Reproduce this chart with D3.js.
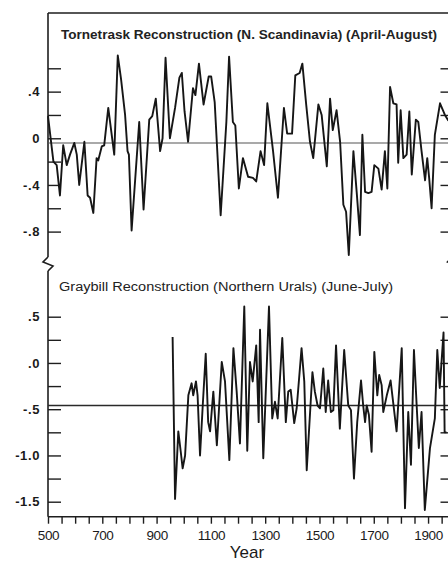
<!DOCTYPE html>
<html>
<head>
<meta charset="utf-8">
<script src="https://cdn.jsdelivr.net/npm/d3@7"></script>
<style>
body { margin: 0; background: #fff; }
svg { display: block; font-family: "Liberation Sans", Arial, sans-serif; }
</style>
</head>
<body>
<script>

// Tornetrask reconstruction, N. Scandinavia (April-August)
const tornYears = [500, 520, 532, 544, 556, 569, 581, 597, 606, 615, 634, 646, 655, 667, 679, 685, 698, 707, 722, 744,
	757, 769, 784, 793, 798, 808, 836, 852, 873, 884, 897, 913, 922, 933, 949, 968, 984, 993, 1003, 1016,
	1034, 1043, 1056, 1073, 1092, 1101, 1114, 1136, 1157, 1167, 1181, 1190, 1203, 1218, 1237, 1255, 1267, 1283, 1296, 1308,
	1329, 1347, 1369, 1381, 1399, 1411, 1427, 1437, 1451, 1465, 1477, 1496, 1508, 1527, 1539, 1549, 1563, 1576, 1588, 1598,
	1608, 1625, 1637, 1649, 1658, 1668, 1680, 1692, 1702, 1717, 1729, 1741, 1750, 1760, 1772, 1784, 1790, 1799, 1809, 1821,
	1831, 1840, 1855, 1864, 1876, 1889, 1897, 1904, 1913, 1925, 1944, 1962, 1975]
const tornValues = [0.19, -0.20, -0.23, -0.49, -0.06, -0.23, -0.14, -0.04, -0.14, -0.40, -0.03, -0.49, -0.51, -0.64, -0.17, -0.19, -0.07, -0.06, 0.26, -0.14,
	0.71, 0.51, 0.20, -0.11, -0.14, -0.79, 0.14, -0.61, 0.16, 0.19, 0.34, -0.11, 0.00, 0.69, 0.00, 0.26, 0.52, 0.56, 0.23, -0.03,
	0.43, 0.37, 0.64, 0.29, 0.53, 0.53, 0.31, -0.66, 0.14, 0.70, 0.14, 0.11, -0.43, -0.17, -0.33, -0.34, -0.37, -0.11, -0.23, 0.30,
	-0.11, -0.51, 0.26, 0.04, 0.04, 0.54, 0.56, 0.64, 0.29, -0.03, -0.17, 0.29, 0.20, -0.24, 0.34, 0.07, 0.24, -0.03, -0.57, -0.63,
	-1.00, -0.11, -0.46, -0.83, 0.03, -0.46, -0.47, -0.46, -0.23, -0.26, -0.44, -0.11, -0.43, 0.44, 0.30, 0.29, -0.21, 0.24, -0.17, -0.14,
	0.23, -0.31, 0.16, 0.14, -0.11, -0.36, -0.17, -0.34, -0.60, 0.03, 0.30, 0.20, 0.15]

// Graybill reconstruction, Northern Urals (June-July)
const grayYears = [959, 968, 980, 989, 996, 1005, 1017, 1029, 1035, 1045, 1051, 1060, 1070, 1081, 1090, 1097, 1109, 1122, 1140, 1152,
	1168, 1183, 1195, 1207, 1223, 1234, 1244, 1254, 1267, 1276, 1281, 1293, 1314, 1326, 1336, 1346, 1363, 1376, 1385, 1394,
	1407, 1416, 1434, 1444, 1453, 1474, 1483, 1493, 1502, 1514, 1523, 1532, 1542, 1551, 1561, 1575, 1591, 1606, 1616, 1627,
	1639, 1653, 1661, 1668, 1674, 1682, 1692, 1702, 1713, 1720, 1729, 1735, 1748, 1762, 1784, 1803, 1815, 1827, 1837, 1848,
	1858, 1866, 1876, 1888, 1907, 1925, 1934, 1943, 1957, 1961, 1968]
const grayValues = [0.28, -1.47, -0.74, -0.96, -1.14, -1.00, -0.35, -0.22, -0.35, -0.20, -0.35, -1.00, -0.46, 0.10, -0.64, -0.74, -0.31, -0.89, 0.01, -0.20,
	-1.05, 0.16, -0.31, -0.87, 0.61, -0.95, 0.01, -0.20, 0.19, -0.64, 0.36, -1.03, 0.61, -0.60, -0.42, -0.60, 0.27, -0.64, -0.31, -0.29,
	-0.65, -0.49, 0.16, -0.20, -1.16, -0.10, -0.31, -0.46, -0.49, -0.06, -0.53, -0.19, -0.53, -0.51, 0.19, -0.71, 0.14, -0.46, -0.51, -1.25,
	-0.64, -0.19, -0.46, -0.64, -0.46, -0.56, -0.96, 0.12, -0.35, -0.13, -0.24, -0.53, -0.35, -0.19, -0.74, 0.16, -1.57, -0.53, -1.10, 0.14,
	-0.46, -0.92, -0.53, -1.59, -0.92, -0.60, 0.14, -0.27, 0.33, -0.75, -0.75]

// reference (mean) lines
const tornMean = -0.04
const grayMean = -0.46

// ticks and their labels
const tornTicks = [0.6, 0.4, 0.2, 0, -0.2, -0.4, -0.6, -0.8]
const tornLabels = {'0.4': '.4', '0': '0', '-0.4': '-.4', '-0.8': '-.8'}
const grayTicks = [0.5, 0.25, 0, -0.25, -0.5, -0.75, -1, -1.25, -1.5]
const grayLabels = {'0.5': '.5', '0': '.0', '-0.5': '-.5', '-1': '-1.0', '-1.5': '-1.5'}
const yearTicks = d3.range(500, 1990, 50)
const yearLabels = [500, 700, 900, 1100, 1300, 1500, 1700, 1900]

const titleTop = 'Tornetrask Reconstruction (N. Scandinavia) (April-August)'
const titleBottom = 'Graybill Reconstruction (Northern Urals) (June-July)'

const W = 448, H = 563
const left = 48, right = 452.5
const frameTop = 13, breakTop = 257, breakBottom = 271, frameBottom = 516.7

const svg = d3.select('body').append('svg')
	.attr('width', W)
	.attr('height', H)

const x = d3.scaleLinear().domain([500, 1990]).range([left, right])
const yTop = d3.scaleLinear().domain([-0.8, 0.6]).range([231.6, 68.3])
const yBot = d3.scaleLinear().domain([-1.5, 0.5]).range([501.7, 316.7])

//Frame: top border, left and right sides with a break, bottom axis line
const frame = svg.append('g').attr('fill', 'none').attr('stroke', '#1e1e1e').attr('stroke-width', 1.6)
frame.append('line').attr('x1', left).attr('x2', right).attr('y1', frameTop).attr('y2', frameTop)
frame.append('line').attr('x1', left).attr('x2', right).attr('y1', frameBottom).attr('y2', frameBottom)
;[left, right].forEach(px => {
	frame.append('line').attr('x1', px).attr('x2', px).attr('y1', frameTop).attr('y2', breakTop)
	frame.append('path').attr('d', `M${px},${breakTop}L${px-5},${breakTop+5}L${px+5},${breakTop+9}L${px},${breakBottom}`)
	frame.append('line').attr('x1', px).attr('x2', px).attr('y1', breakBottom).attr('y2', frameBottom)
})

//Axes
function styleAxis(g) {
	g.select('.domain').remove()
	g.selectAll('.tick line').attr('stroke', '#1e1e1e').attr('stroke-width', 1.4)
	g.selectAll('.tick text').attr('fill', '#1a1a1a').attr('font-family', '"Liberation Sans", Arial, sans-serif')
}

svg.append('g').attr('transform', `translate(${left},0)`)
	.call(d3.axisLeft(yTop).tickValues(tornTicks).tickSize(-13).tickPadding(8)
		.tickFormat(d => tornLabels[String(+d.toFixed(2))] || ''))
	.call(styleAxis)
	.selectAll('text').attr('font-size', 13).attr('font-weight', 'bold').attr('letter-spacing', 0.6)

svg.append('g').attr('transform', `translate(${right},0)`)
	.call(d3.axisRight(yTop).tickValues(tornTicks).tickSize(-12).tickFormat(''))
	.call(styleAxis)

svg.append('g').attr('transform', `translate(${left},0)`)
	.call(d3.axisLeft(yBot).tickValues(grayTicks).tickSize(-13).tickPadding(8)
		.tickFormat(d => grayLabels[String(+d.toFixed(2))] || ''))
	.call(styleAxis)
	.selectAll('text').attr('font-size', 13).attr('font-weight', 'bold').attr('letter-spacing', 0.6)

svg.append('g').attr('transform', `translate(${right},0)`)
	.call(d3.axisRight(yBot).tickValues(grayTicks).tickSize(-12).tickFormat(''))
	.call(styleAxis)

svg.append('g').attr('transform', `translate(0,${frameBottom})`)
	.call(d3.axisBottom(x).tickValues(yearTicks).tickSize(7).tickPadding(7)
		.tickFormat(d => yearLabels.includes(d) ? d : ''))
	.call(styleAxis)
	.selectAll('text').attr('font-size', 13.5).attr('letter-spacing', -0.4)

//Mean lines
svg.append('line')
	.attr('x1', left).attr('x2', right)
	.attr('y1', yTop(tornMean)).attr('y2', yTop(tornMean))
	.attr('stroke', '#555').attr('stroke-width', 1.1)
svg.append('line')
	.attr('x1', left).attr('x2', right)
	.attr('y1', yBot(grayMean)).attr('y2', yBot(grayMean))
	.attr('stroke', '#2a2a2a').attr('stroke-width', 1.3)

//Series
const tornLine = d3.line().x(d => x(d[0])).y(d => yTop(d[1]))
const grayLine = d3.line().x(d => x(d[0])).y(d => yBot(d[1]))

svg.append('path')
	.datum(d3.zip(tornYears, tornValues))
	.attr('fill', 'none').attr('stroke', '#161616').attr('stroke-width', 1.9).attr('stroke-linejoin', 'round')
	.attr('d', tornLine)

svg.append('path')
	.datum(d3.zip(grayYears, grayValues))
	.attr('fill', 'none').attr('stroke', '#161616').attr('stroke-width', 1.9).attr('stroke-linejoin', 'round')
	.attr('d', grayLine)

//Titles
svg.append('text').text(titleTop)
	.attr('x', 61).attr('y', 39)
	.attr('font-size', 12).attr('font-weight', 'bold').attr('fill', '#222')
	.attr('textLength', 376).attr('lengthAdjust', 'spacingAndGlyphs')

svg.append('text').text(titleBottom)
	.attr('x', 59).attr('y', 291)
	.attr('font-size', 12).attr('fill', '#222')
	.attr('textLength', 334).attr('lengthAdjust', 'spacingAndGlyphs')

svg.append('text').text('Year')
	.attr('x', 247).attr('y', 558)
	.attr('text-anchor', 'middle')
	.attr('font-size', 17).attr('fill', '#1a1a1a')

</script>
</body>
</html>
